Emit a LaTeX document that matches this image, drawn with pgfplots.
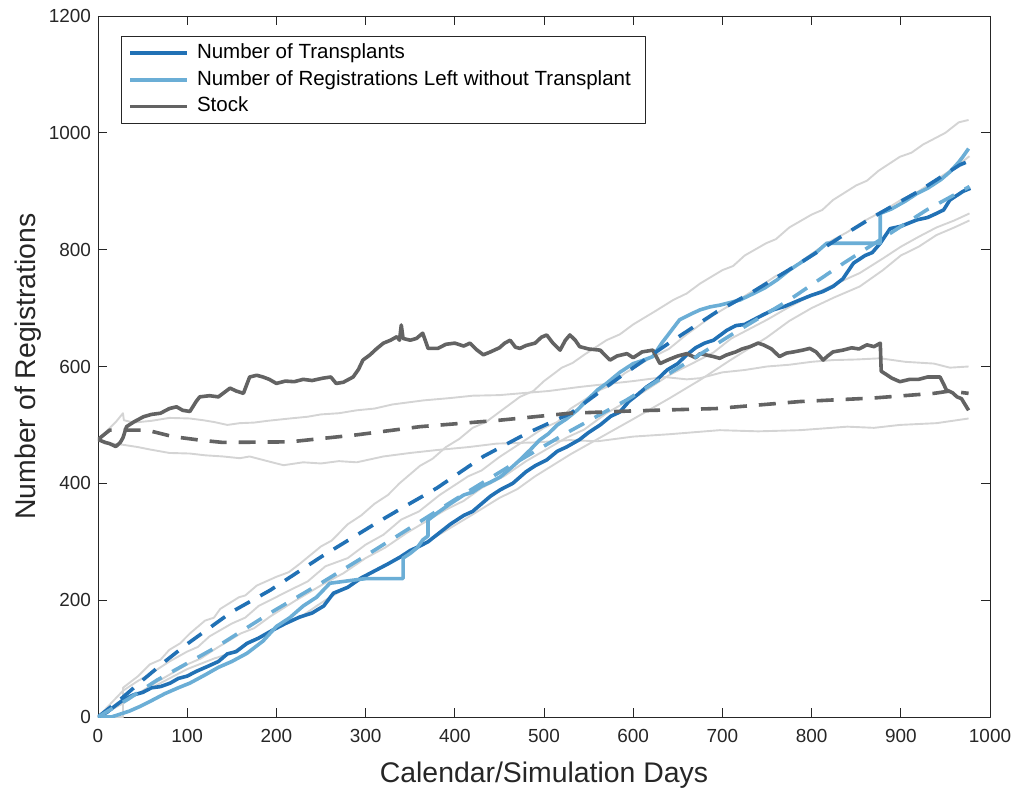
\documentclass[border=0pt]{standalone}
\usepackage{fontspec}
\setmainfont{Liberation Sans}
\usepackage{pgfplots}
\pgfplotsset{compat=1.18}
\definecolor{tblue}{RGB}{33,113,181}
\definecolor{rblue}{RGB}{107,174,214}
\definecolor{sgray}{RGB}{99,99,99}
\definecolor{bgray}{RGB}{212,212,212}
\definecolor{axgray}{RGB}{38,38,38}
\begin{document}
\begin{tikzpicture}
\path[use as bounding box] (-98bp,-76bp) rectangle (918bp,717bp);
\begin{axis}[
  at={(0,0)}, anchor=south west,
  scale only axis, width=892bp, height=701bp,
  xmin=0, xmax=1000, ymin=0, ymax=1200,
  xtick={0,100,...,1000}, ytick={0,200,...,1200},
  tick align=inside, major tick length=9bp,
  xtick pos=both, ytick pos=both,
  axis line style={axgray, line width=0.8bp},
  every tick/.style={axgray, line width=0.8bp},
  tick label style={font=\fontsize{19}{19}\selectfont, color=axgray},
  xticklabel style={yshift=-8.5bp},
  yticklabel style={xshift=-3.5bp},
  /pgf/number format/assume math mode=true,
  /pgf/number format/1000 sep={},
  xlabel={Calendar/Simulation Days},
  ylabel={Number of Registrations},
  label style={font=\fontsize{28.5}{28.5}\selectfont, color=axgray},
  xlabel style={at={(axis description cs:0.5,-0.094)}, anchor=base},
  ylabel style={at={(axis description cs:-0.0706,0.5)}, anchor=base},
  legend cell align=left,
  legend image code/.code={\draw[#1] (0bp,0bp) -- (57bp,0bp);},
  legend style={at={(rel axis cs:0.0258,0.972)}, anchor=north west,
    draw=axgray, line width=0.8bp, fill=white,
    font=\fontsize{20.6}{20.6}\selectfont,
    inner xsep=7bp, inner ysep=5.6bp, row sep=3.6bp,
    nodes={inner ysep=2bp, inner xsep=8bp, text height=14.8bp, text depth=4.3bp, text=black}},
  line join=round,
]
% ---------- grey bounds ----------
\addplot[bgray, line width=1.9bp, forget plot] coordinates {
(0,0) (28,0) (28,50) (45,70) (58,90) (70,98) (80,115) (92,126) (103,143) (120,165) (130,170) (137,185) (158,205) (165,208) (178,225) (200,240) (214,248) (226,262) (250,292) (262,302) (280,330) (295,345) (310,365) (325,380) (338,400) (361,430) (375,442) (390,462) (405,476) (420,495) (435,505) (450,522) (473,548) (488,558) (500,575) (520,598) (532,606) (545,620) (570,645) (585,655) (600,672) (625,695) (645,714) (660,725) (675,742) (700,765) (712,772) (725,790) (749,811) (760,818) (775,838) (800,860) (812,868) (824,885) (850,910) (862,918) (875,935) (899,959) (912,966) (925,980) (950,1000) (965,1018) (976,1022)};
\addplot[bgray, line width=1.9bp, forget plot] coordinates {
(0,0) (28,45) (45,62) (60,75) (80,95) (100,112) (112,120) (125,138) (150,160) (165,170) (180,190) (215,217) (235,232) (255,258) (280,272) (300,295) (320,312) (340,338) (360,352) (383,380) (415,412) (430,422) (450,445) (475,470) (500,495) (515,505) (530,528) (563,560) (575,568) (590,588) (620,615) (640,630) (660,655) (690,688) (712,708) (740,735) (760,755) (775,764) (790,782) (817,811) (840,830) (860,850) (880,866) (900,885) (920,900) (940,920) (960,940) (977,960)};
\addplot[bgray, line width=1.9bp, forget plot] coordinates {
(0,0) (30,25) (50,45) (66,60) (100,90) (115,100) (133,118) (160,143) (175,152) (193,172) (220,198) (253,228) (275,246) (300,272) (322,290) (346,315) (390,355) (410,370) (430,392) (455,412) (480,438) (525,478) (545,492) (570,520) (611,556) (640,585) (675,612) (690,624) (710,648) (750,680) (775,702) (800,722) (825,740) (854,760) (880,785) (900,805) (920,822) (940,838) (960,850) (977,862)};
\addplot[bgray, line width=1.9bp, forget plot] coordinates {
(0,0) (28,0) (28,30) (45,40) (60,50) (80,66) (100,82) (130,100) (150,110) (167,126) (195,148) (226,170) (245,190) (260,205) (300,240) (340,275) (380,310) (415,342) (450,375) (470,390) (490,412) (530,450) (565,480) (600,510) (640,545) (675,577) (710,612) (750,650) (775,678) (800,700) (825,718) (854,737) (880,765) (900,790) (920,805) (940,825) (960,838) (977,850)};
\addplot[bgray, line width=1.9bp, forget plot] coordinates {
(0,475) (10,490) (20,505) (28,520) (29,508) (40,504) (60,507) (80,512) (103,511) (118,508) (130,505) (145,500) (159,503) (175,504) (190,507) (215,511) (235,514) (250,518) (270,520) (290,525) (310,528) (330,535) (365,542) (395,546) (420,550) (450,551) (473,554) (505,558) (540,565) (570,570) (600,575) (635,582) (660,578) (675,580) (700,590) (725,594) (750,600) (775,603) (800,608) (824,611) (850,612) (877,614) (905,608) (937,605) (955,598) (976,600)};
\addplot[bgray, line width=1.9bp, forget plot] coordinates {
(0,475) (15,468) (28,466) (45,462) (58,458) (80,452) (103,451) (120,448) (140,446) (159,443) (170,446) (190,438) (208,431) (230,436) (250,434) (270,438) (290,436) (320,446) (350,452) (380,457) (415,462) (447,468) (490,470) (529,474) (560,472) (600,480) (640,484) (697,491) (740,489) (787,491) (840,497) (870,495) (899,500) (940,503) (976,511)};
% ---------- actual (solid) ----------
\addplot[tblue, line width=3.6bp] coordinates {
(0,0) (10,8) (20,20) (28,29) (40,38) (50,42) (60,50) (70,52) (81,58) (90,66) (100,70) (110,78) (122,86) (135,95) (145,108) (155,112) (167,126) (180,135) (195,148) (210,160) (226,171) (240,178) (253,190) (258,200) (264,212) (280,222) (295,238) (310,250) (325,262) (339,274) (350,285) (360,292) (370,300) (380,312) (395,330) (410,345) (420,352) (430,365) (440,378) (451,389) (465,400) (480,420) (490,430) (503,440) (515,455) (525,462) (540,475) (550,487) (563,500) (575,515) (585,522) (595,540) (605,552) (615,565) (625,575) (638,594) (650,605) (660,620) (670,632) (680,640) (690,645) (705,662) (715,670) (725,672) (735,680) (745,688) (757,697) (770,703) (787,714) (800,722) (812,728) (824,737) (835,750) (847,777) (860,790) (868,795) (877,811) (888,836) (900,840) (918,851) (930,855) (940,862) (948,868) (955,885) (965,895) (970,900) (978,905)};
\addlegendentry{Number of Transplants}
\addplot[rblue, line width=3.6bp] coordinates {
(0,0) (15,0) (25,5) (35,10) (47,18) (60,28) (75,40) (90,50) (103,58) (120,72) (135,85) (150,95) (167,109) (185,130) (200,155) (215,170) (230,190) (245,205) (260,229) (275,232) (290,235) (301,237) (342,237) (342,272) (350,280) (358,290) (364,303) (370,310) (370,337) (380,349) (395,365) (410,380) (420,385) (430,395) (440,402) (451,411) (462,425) (473,440) (485,458) (495,474) (505,485) (515,500) (525,510) (537,525) (550,545) (560,560) (570,571) (585,590) (600,605) (610,610) (622,617) (632,640) (642,660) (652,680) (665,690) (675,697) (686,702) (697,705) (710,710) (720,714) (735,725) (748,735) (761,748) (775,765) (790,780) (805,795) (817,811) (877,811) (877,862) (890,870) (905,883) (918,896) (930,905) (945,920) (955,933) (965,950) (970,960) (976,973)};
\addlegendentry{Number of Registrations Left without Transplant}
\addplot[sgray, line width=3.6bp] coordinates {
(0,475) (8,470) (13,468) (20,463) (25,470) (28,478) (32,497) (40,505) (51,514) (60,518) (70,520) (80,528) (88,531) (95,525) (103,523) (110,540) (114,548) (125,550) (135,548) (148,563) (155,558) (163,554) (170,582) (178,585) (185,582) (192,578) (200,571) (210,575) (220,574) (230,578) (240,576) (252,580) (261,582) (267,571) (275,573) (286,582) (292,595) (297,611) (305,620) (312,630) (320,640) (328,645) (335,651) (338,645) (340,671) (342,648) (350,645) (357,648) (364,657) (368,640) (370,631) (381,631) (390,638) (400,640) (410,635) (417,640) (425,628) (432,620) (440,625) (450,632) (456,640) (462,645) (468,633) (473,631) (480,636) (490,640) (497,650) (503,654) (510,640) (518,628) (524,645) (529,654) (535,645) (540,634) (550,630) (563,628) (568,620) (574,611) (582,618) (593,622) (600,615) (610,625) (622,628) (630,605) (640,612) (650,618) (660,622) (670,615) (675,622) (690,617) (697,614) (705,620) (715,625) (722,630) (731,634) (740,640) (746,637) (755,630) (764,617) (772,623) (780,625) (790,628) (798,631) (805,625) (813,611) (818,618) (824,625) (835,628) (845,632) (853,630) (862,637) (870,634) (877,640) (878,592) (882,588) (890,580) (899,574) (910,578) (920,578) (930,582) (944,582) (948,570) (951,560) (958,555) (963,548) (968,545) (972,535) (976,525)};
\addlegendentry{Stock}
% ---------- simulated means (dashed) ----------
\addplot[tblue, line width=3.6bp, dash pattern=on 17bp off 12bp, forget plot] coordinates {
(0,0) (25,30) (50,63) (75,95) (100,125) (150,180) (193,217) (250,274) (312,332) (340,357) (380,392) (432,446) (480,485) (530,520) (585,582) (640,640) (694,694) (731,725) (787,777) (839,828) (869,856) (920,900) (966,945) (977,952)};
\addplot[rblue, line width=3.6bp, dash pattern=on 17bp off 12bp, forget plot] coordinates {
(0,0) (33,30) (66,63) (100,92) (133,120) (193,178) (253,232) (300,276) (346,320) (400,372) (460,428) (525,486) (593,543) (653,600) (716,660) (775,714) (836,777) (880,820) (929,868) (977,908)};
\addplot[sgray, line width=3.6bp, dash pattern=on 17bp off 12bp, forget plot] coordinates {
(0,475) (13,491) (55,491) (84,480) (114,474) (140,470) (215,471) (290,483) (361,497) (450,508) (529,520) (600,524) (693,528) (787,540) (869,546) (937,554) (955,558) (976,554)};
\end{axis}
\end{tikzpicture}
\end{document}
